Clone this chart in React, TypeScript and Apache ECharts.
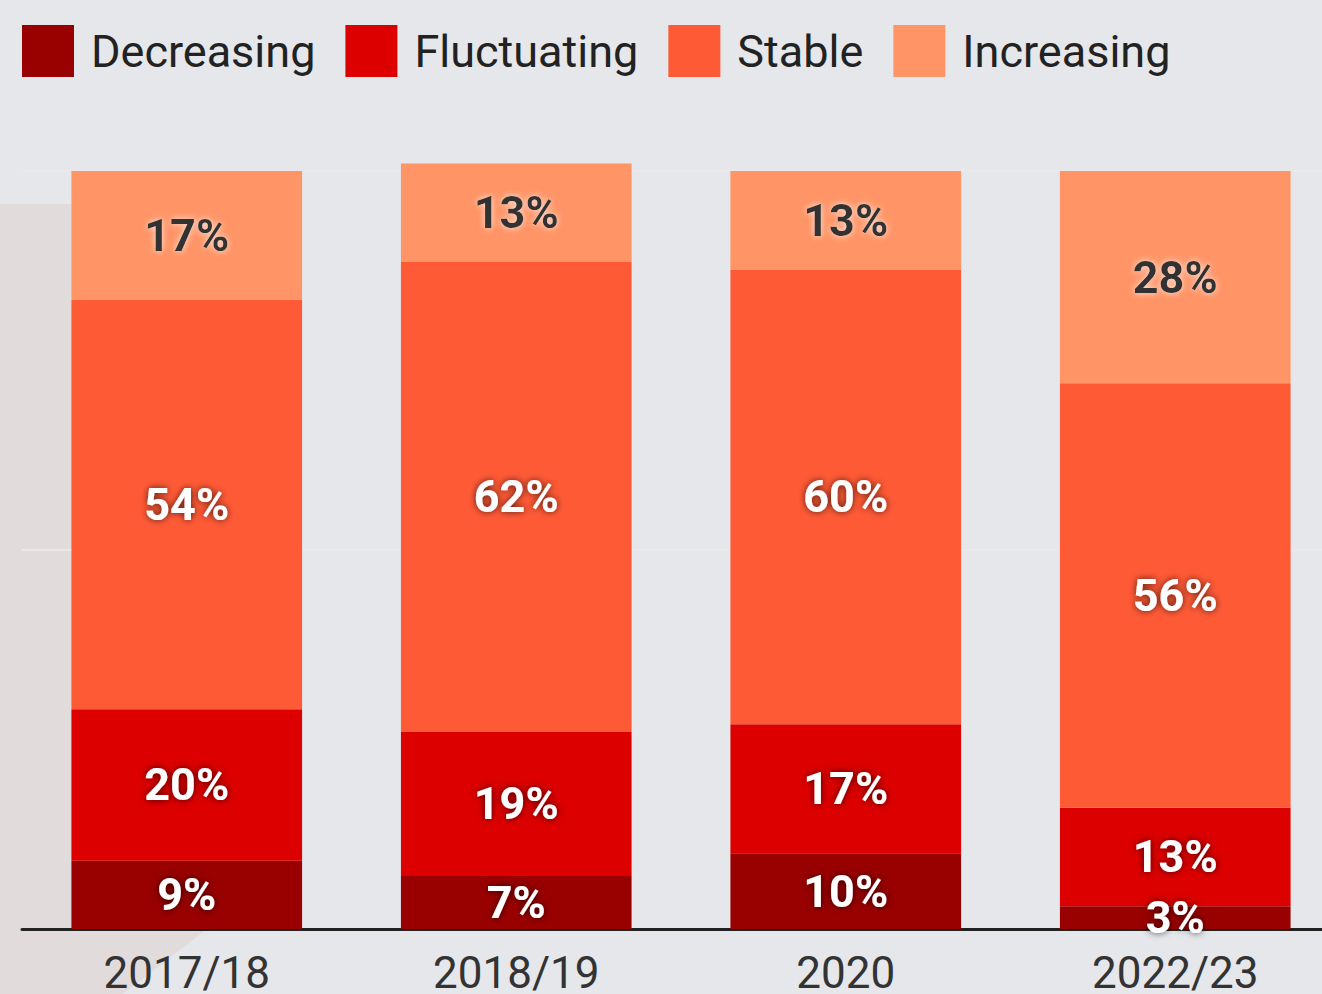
import React, { useEffect, useRef } from "react";
import * as echarts from "echarts";

const categories = ["2017/18", "2018/19", "2020", "2022/23"];
const seriesNames = ["Decreasing", "Fluctuating", "Stable", "Increasing"];
const decreasing = [9, 7, 10, 3];
const fluctuating = [20, 19, 17, 13];
const stable = [54, 62, 60, 56];
const increasing = [17, 13, 13, 28];
const colors = ["#990000", "#dc0000", "#ff5a36", "#ff9466"];
const yTicks = [0, 50, 100];

export default function App() {
  const ref = useRef<HTMLDivElement>(null);
  useEffect(() => {
    if (!ref.current) return;
    const chart = echarts.init(ref.current, undefined, { renderer: "svg" });
    const values = [decreasing, fluctuating, stable, increasing];
    const font = "Roboto, 'Noto Sans', sans-serif";
    chart.setOption({
      animation: false,
      backgroundColor: "#e5e7eb",
      textStyle: { fontFamily: font },
      graphic: [
        {
          type: "polygon",
          z: -10,
          silent: true,
          shape: {
            points: [
              [0, 204],
              [283, 204],
              [283, 870],
              [123, 994],
              [0, 994],
            ],
          },
          style: { fill: "#e2dbdc" },
        },
      ],
      legend: {
        left: 22,
        top: 25,
        padding: 0,
        itemWidth: 52,
        itemHeight: 52,
        itemGap: 30,
        icon: "rect",
        data: seriesNames,
        textStyle: {
          fontSize: 45,
          color: "#222",
          fontFamily: font,
          padding: [0, 0, 0, 12],
        },
      },
      grid: {
        left: 22,
        width: 1318,
        top: 171,
        bottom: 65,
        containLabel: false,
        outerBoundsMode: "none",
      },
      xAxis: {
        type: "category",
        data: categories,
        axisLine: { show: true, lineStyle: { color: "#222", width: 3 } },
        axisTick: { show: false },
        axisLabel: { fontSize: 44, color: "#333", margin: 22, fontFamily: font },
      },
      yAxis: {
        type: "value",
        min: yTicks[0],
        max: yTicks[yTicks.length - 1],
        interval: 50,
        axisLabel: { show: false },
        axisLine: { show: false },
        axisTick: { show: false },
        splitLine: { show: true, lineStyle: { color: "#ece8e7", width: 2 } },
      },
      series: seriesNames.map((name, i) => ({
        name,
        type: "bar",
        stack: "total",
        barWidth: "70%",
        clip: false,
        data: values[i],
        itemStyle: { color: colors[i] },
        label: {
          show: true,
          position: "inside",
          formatter: "{c}%",
          fontSize: 45,
          fontWeight: "bold",
          fontFamily: font,
          color: i === 3 ? "#333" : "#fff",
          textBorderWidth: 0,
          textShadowColor: i === 3 ? "rgba(255,255,255,0.8)" : "rgba(0,0,0,0.7)",
          textShadowBlur: 7,
        },
      })),
    });
    return () => chart.dispose();
  }, []);
  return (
    <div
      ref={ref}
      style={{ position: "fixed", left: 0, top: 0, width: 1322, height: 994 }}
    />
  );
}
